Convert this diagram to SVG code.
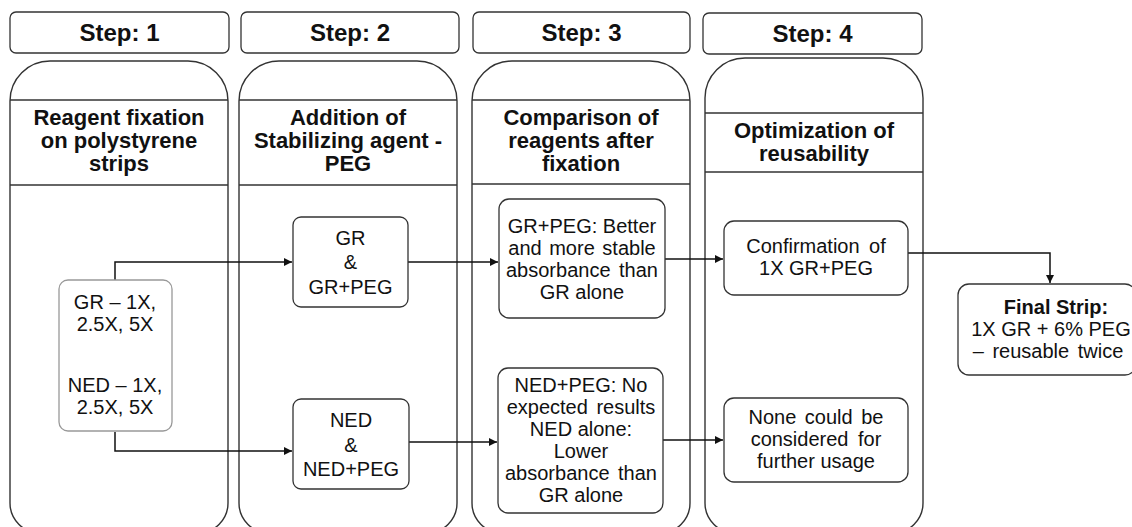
<svg xmlns="http://www.w3.org/2000/svg" width="1132" height="527" viewBox="0 0 1132 527">
<style>
.col{fill:none;stroke:#333;stroke-width:1.4}
.hdr{fill:#fff;stroke:#333;stroke-width:1.3}
.band{stroke:#333;stroke-width:1.3}
.box{fill:#fff;stroke:#333;stroke-width:1.3}
.gbox{fill:#fff;stroke:#999;stroke-width:1.3}
.conn{fill:none;stroke:#111;stroke-width:1.5}
text{font-family:"Liberation Sans",Arial,sans-serif;fill:#111;text-anchor:middle}
.h{font-size:24px;font-weight:bold}
.b{font-size:22px;font-weight:bold}
.t{font-size:20px}
.fb{font-size:20px;font-weight:bold}
</style>
<defs>
<marker id="ah" viewBox="0 0 10 10" refX="10" refY="5" markerWidth="8" markerHeight="8" markerUnits="userSpaceOnUse" orient="auto">
<path d="M0,0 L10,5 L0,10 Z" fill="#111"/>
</marker>
</defs>
<rect width="1132" height="527" fill="#fff"/>

<g id="step1">
<rect class="hdr" x="10" y="12" width="219" height="41" rx="6"/>
<text class="h" x="119.5" y="41">Step: 1</text>
<path class="col" d="M10,101 A40,40 0 0 1 50,61 H188 A40,40 0 0 1 228,101 V503 A30,30 0 0 1 198,533 H40 A30,30 0 0 1 10,503 Z"/>
<line class="band" x1="10" y1="100" x2="228" y2="100"/>
<line class="band" x1="10" y1="185" x2="228" y2="185"/>
<text class="b" x="119" y="125">Reagent fixation</text>
<text class="b" x="119" y="148">on polystyrene</text>
<text class="b" x="119" y="171">strips</text>
</g>

<g id="step2">
<rect class="hdr" x="241" y="12" width="218" height="41" rx="6"/>
<text class="h" x="350" y="41">Step: 2</text>
<path class="col" d="M239,101 A40,40 0 0 1 279,61 H417 A40,40 0 0 1 457,101 V503 A30,30 0 0 1 427,533 H269 A30,30 0 0 1 239,503 Z"/>
<line class="band" x1="239" y1="100" x2="457" y2="100"/>
<line class="band" x1="239" y1="185" x2="457" y2="185"/>
<text class="b" x="348" y="125">Addition of</text>
<text class="b" x="348" y="148">Stabilizing agent -</text>
<text class="b" x="348" y="171">PEG</text>
</g>

<g id="step3">
<rect class="hdr" x="473" y="12" width="217" height="41" rx="6"/>
<text class="h" x="581.5" y="41">Step: 3</text>
<path class="col" d="M472,101 A40,40 0 0 1 512,61 H650 A40,40 0 0 1 690,101 V503 A30,30 0 0 1 660,533 H502 A30,30 0 0 1 472,503 Z"/>
<line class="band" x1="472" y1="100" x2="690" y2="100"/>
<line class="band" x1="472" y1="184" x2="690" y2="184"/>
<text class="b" x="581" y="125">Comparison of</text>
<text class="b" x="581" y="148">reagents after</text>
<text class="b" x="581" y="171">fixation</text>
</g>

<g id="step4">
<rect class="hdr" x="703" y="13" width="219" height="41" rx="6"/>
<text class="h" x="812.5" y="42">Step: 4</text>
<path class="col" d="M705,98 A40,40 0 0 1 745,58 H883 A40,40 0 0 1 923,98 V503 A30,30 0 0 1 893,533 H735 A30,30 0 0 1 705,503 Z"/>
<line class="band" x1="705" y1="113" x2="923" y2="113"/>
<line class="band" x1="705" y1="172" x2="923" y2="172"/>
<text class="b" x="814" y="138">Optimization of</text>
<text class="b" x="814" y="161">reusability</text>
</g>

<g id="connectors">
<path class="conn" d="M115,280 V262 H292" marker-end="url(#ah)"/>
<path class="conn" d="M115,432 V451 H292" marker-end="url(#ah)"/>
<path class="conn" d="M408,262 H498" marker-end="url(#ah)"/>
<path class="conn" d="M409,442 H497" marker-end="url(#ah)"/>
<path class="conn" d="M665,259 H723" marker-end="url(#ah)"/>
<path class="conn" d="M663,440 H723" marker-end="url(#ah)"/>
<path class="conn" d="M908,253 H1050 V283" marker-end="url(#ah)"/>
</g>

<g id="reagents">
<rect class="gbox" x="59" y="280" width="113" height="151" rx="9"/>
<text class="t" x="115" y="309">GR – 1X,</text>
<text class="t" x="115" y="331">2.5X, 5X</text>
<text class="t" x="115" y="392">NED – 1X,</text>
<text class="t" x="115" y="414">2.5X, 5X</text>
</g>

<g id="gr-box">
<rect class="box" x="293" y="217" width="115" height="90" rx="8"/>
<text class="t" x="350.5" y="245">GR</text>
<text class="t" x="350.5" y="269">&amp;</text>
<text class="t" x="350.5" y="294">GR+PEG</text>
</g>

<g id="ned-box">
<rect class="box" x="293" y="399" width="116" height="90" rx="8"/>
<text class="t" x="351" y="427">NED</text>
<text class="t" x="351" y="452">&amp;</text>
<text class="t" x="351" y="476">NED+PEG</text>
</g>

<g id="gr-compare">
<rect class="box" x="499" y="199" width="166" height="119" rx="10"/>
<text class="t" x="582" y="233">GR+PEG: Better</text>
<text class="t" x="582" y="255" word-spacing="2">and more stable</text>
<text class="t" x="582" y="277" word-spacing="3">absorbance than</text>
<text class="t" x="582" y="299">GR alone</text>
</g>

<g id="ned-compare">
<rect class="box" x="498" y="368" width="165" height="145" rx="10"/>
<text class="t" x="581" y="392">NED+PEG: No</text>
<text class="t" x="581" y="414" word-spacing="3">expected results</text>
<text class="t" x="581" y="436">NED alone:</text>
<text class="t" x="581" y="458">Lower</text>
<text class="t" x="581" y="480" word-spacing="3">absorbance than</text>
<text class="t" x="581" y="502">GR alone</text>
</g>

<g id="confirm">
<rect class="box" x="724" y="221" width="184" height="74" rx="10"/>
<text class="t" x="816" y="253" word-spacing="4">Confirmation of</text>
<text class="t" x="816" y="275">1X GR+PEG</text>
</g>

<g id="none">
<rect class="box" x="724" y="398" width="184" height="84" rx="10"/>
<text class="t" x="816" y="424" word-spacing="3">None could be</text>
<text class="t" x="816" y="446" word-spacing="4">considered for</text>
<text class="t" x="816" y="468">further usage</text>
</g>

<g id="final">
<rect class="box" x="958" y="284" width="178" height="91" rx="11"/>
<text class="fb" x="1056" y="314">Final Strip:</text>
<text class="t" x="1051" y="336">1X GR + 6% PEG</text>
<text class="t" x="1048" y="358" word-spacing="3">– reusable twice</text>
</g>
</svg>
